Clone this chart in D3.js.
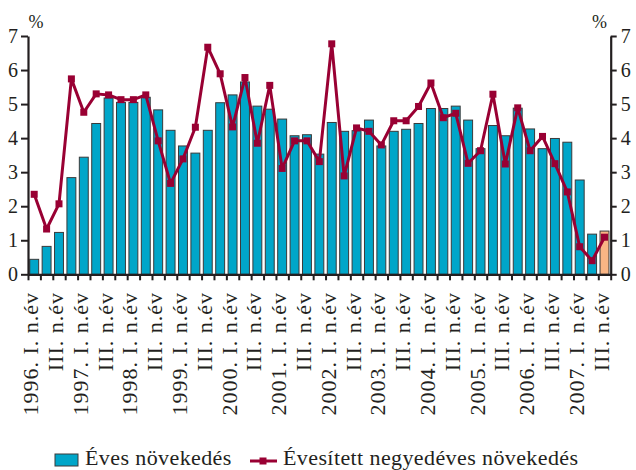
<!DOCTYPE html>
<html><head><meta charset="utf-8">
<script src="https://cdn.jsdelivr.net/npm/d3@7"></script>
<style>body{margin:0;background:#fff}svg{display:block}text{font-family:"Liberation Serif","DejaVu Serif",serif;fill:#231f20}</style>
</head><body><svg id="c" width="636" height="470"></svg>
<script>
const categories = [
"1996. I. n.év","1996. II. n.év","1996. III. n.év","1996. IV. n.év",
"1997. I. n.év","1997. II. n.év","1997. III. n.év","1997. IV. n.év",
"1998. I. n.év","1998. II. n.év","1998. III. n.év","1998. IV. n.év",
"1999. I. n.év","1999. II. n.év","1999. III. n.év","1999. IV. n.év",
"2000. I. n.év","2000. II. n.év","2000. III. n.év","2000. IV. n.év",
"2001. I. n.év","2001. II. n.év","2001. III. n.év","2001. IV. n.év",
"2002. I. n.év","2002. II. n.év","2002. III. n.év","2002. IV. n.év",
"2003. I. n.év","2003. II. n.év","2003. III. n.év","2003. IV. n.év",
"2004. I. n.év","2004. II. n.év","2004. III. n.év","2004. IV. n.év",
"2005. I. n.év","2005. II. n.év","2005. III. n.év","2005. IV. n.év",
"2006. I. n.év","2006. II. n.év","2006. III. n.év","2006. IV. n.év",
"2007. I. n.év","2007. II. n.év","2007. III. n.év"];
const tickLabels = [
"1996. I. n.év","","III. n.év","",
"1997. I. n.év","","III. n.év","",
"1998. I. n.év","","III. n.év","",
"1999. I. n.év","","III. n.év","",
"2000. I. n.év","","III. n.év","",
"2001. I. n.év","","III. n.év","",
"2002. I. n.év","","III. n.év","",
"2003. I. n.év","","III. n.év","",
"2004. I. n.év","","III. n.év","",
"2005. I. n.év","","III. n.év","",
"2006. I. n.év","","III. n.év","",
"2007. I. n.év","","III. n.év"];
const annualGrowth = [0.44,0.82,1.23,2.84,3.44,4.43,5.18,5.05,5.05,5.2,4.83,4.23,3.77,3.56,4.23,5.04,5.27,5.65,4.94,4.85,4.56,4.07,4.1,3.53,4.46,4.2,4.22,4.53,3.77,4.2,4.26,4.43,4.87,4.87,4.94,4.53,3.69,4.37,4.07,4.88,4.27,3.69,3.99,3.88,2.77,1.18,1.27];
const quarterlyAnnualized = [2.35,1.33,2.07,5.74,4.76,5.3,5.27,5.13,5.13,5.27,3.92,2.67,3.39,4.32,6.67,5.89,4.33,5.78,3.85,5.55,3.11,3.92,3.92,3.31,6.77,2.89,4.3,4.2,3.8,4.51,4.51,4.93,5.62,4.6,4.73,3.26,3.63,5.29,3.24,4.89,3.63,4.05,3.25,2.42,0.81,0.4,1.09];
const yTicks = [0,1,2,3,4,5,6,7];
const seriesNames = ["Éves növekedés","Évesített negyedéves növekedés"];
const unitLabel = "%";

const svg = d3.select("#c");
const L = 28, R = 610.7, T = 36, B = 274.3;
const n = categories.length;
const x = d3.scaleBand().domain(d3.range(n)).range([L, R]).paddingInner(0.28).paddingOuter(0.14);
const xb = d3.scaleLinear().domain([0, n]).range([L, R]);
const y = d3.scaleLinear().domain([0, 7]).range([B, T]);
const blue = "#00a6c9", red = "#990033", orange = "#fab584", ink = "#231f20";

// bars
svg.append("g").selectAll("rect").data(annualGrowth).join("rect")
  .attr("x", (d,i) => x(i)).attr("width", x.bandwidth())
  .attr("y", d => y(d)).attr("height", d => y(0) - y(d))
  .attr("fill", (d,i) => i === n-1 ? orange : blue)
  .attr("stroke", "#3a3a3a").attr("stroke-width", 1);

// line
const cx = i => x(i) + x.bandwidth()/2;
svg.append("path").datum(quarterlyAnnualized)
  .attr("fill","none").attr("stroke", red).attr("stroke-width", 3).attr("stroke-linejoin","round")
  .attr("d", d3.line().x((d,i) => cx(i)).y(d => y(d)));
svg.append("g").selectAll("rect").data(quarterlyAnnualized).join("rect")
  .attr("x", (d,i) => cx(i) - 3.5).attr("y", d => y(d) - 3.5)
  .attr("width", 7).attr("height", 7).attr("fill", red);

// axes
function styleAxis(g){
  g.select(".domain").attr("stroke", ink).attr("stroke-width", 2.2);
  g.selectAll(".tick line").attr("stroke", ink).attr("stroke-width", 2);
  g.selectAll(".tick text").style("font-size","20px").attr("fill", ink);
}
svg.append("g").attr("transform",`translate(${L},0)`)
  .call(d3.axisLeft(y).tickValues(yTicks).tickSize(7).tickSizeOuter(0).tickPadding(3).tickFormat(d3.format("d")))
  .call(styleAxis);
svg.append("g").attr("transform",`translate(${R},0)`)
  .call(d3.axisRight(y).tickValues(yTicks).tickSize(6).tickSizeOuter(0).tickPadding(4).tickFormat(d3.format("d")))
  .call(styleAxis);
svg.append("g").attr("transform",`translate(0,${B})`)
  .call(d3.axisBottom(xb).tickValues(d3.range(n+1)).tickSize(6).tickSizeOuter(0).tickFormat(""))
  .call(styleAxis);

svg.append("text").attr("x", 36).attr("y", 28).attr("text-anchor","middle").style("font-size","18px").text(unitLabel);
svg.append("text").attr("x", 607).attr("y", 28).attr("text-anchor","end").style("font-size","18px").text(unitLabel);

// x labels
svg.append("g").selectAll("text").data(tickLabels).join("text")
  .attr("transform", (d,i) => `translate(${cx(i)+4},292) rotate(-90)`)
  .attr("text-anchor","end").style("font-size","22px").style("letter-spacing","1px").text(d => d);

// legend
const lg = svg.append("g");
lg.append("rect").attr("x",55).attr("y",454).attr("width",23).attr("height",12).attr("fill",blue).attr("stroke","#3a3a3a");
lg.append("text").attr("x",85).attr("y",465).style("font-size","22px").style("letter-spacing","0.4px").text(seriesNames[0]);
lg.append("line").attr("x1",250).attr("x2",277).attr("y1",461).attr("y2",461).attr("stroke",red).attr("stroke-width",3);
lg.append("rect").attr("x",259.5).attr("y",457.5).attr("width",7).attr("height",7).attr("fill",red);
lg.append("text").attr("x",283).attr("y",465).style("font-size","22px").style("letter-spacing","0.4px").text(seriesNames[1]);
</script></body></html>
